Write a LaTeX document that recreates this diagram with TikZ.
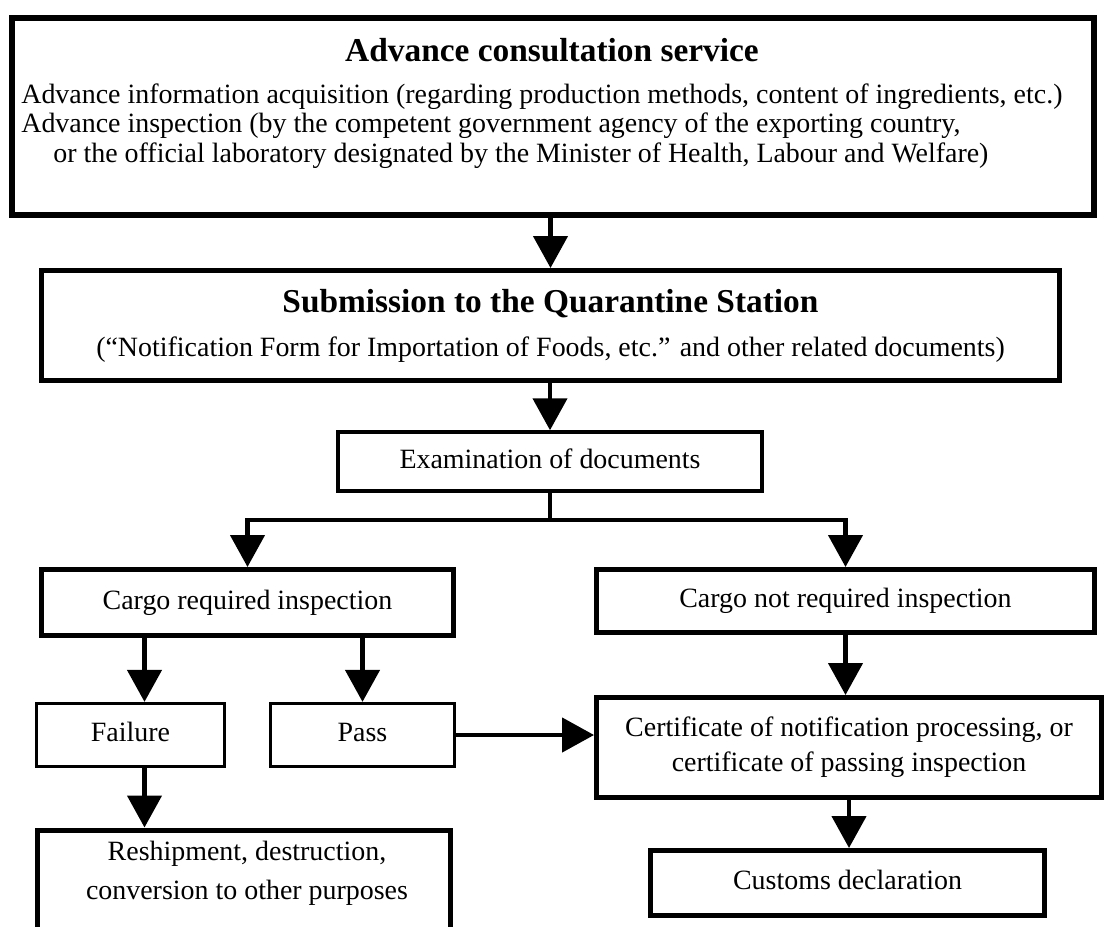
\documentclass[tikz,border=0pt]{standalone}
\usepackage{fontspec}
\setmainfont{Liberation Serif}
\usetikzlibrary{arrows.meta}

\begin{document}
\begin{tikzpicture}[x=0.02cm, y=-0.02cm,
		box/.style={draw, line width=0.1cm, inner sep=0pt, align=center, font=\fontsize{15.9}{20}\selectfont},
		thinbox/.style={box, line width=0.065cm},
		oneline/.style={text height=11pt, text depth=3.5pt},
		flow/.style={line width=0.09cm, -{Triangle[width=0.68cm, length=0.64cm]}},
		link/.style={line width=0.09cm}]
	\clip (0,0) rectangle (1104,926);
	\node[box, line width=0.12cm, minimum width=21.64cm, minimum height=3.94cm] (adv) at (553,116.5) {};
	\node[font=\fontsize{19}{22}\selectfont\bfseries] (advtitle) at (552,50) {Advance consultation service};
	\node[anchor=west, align=left, inner sep=0pt, font=\fontsize{15.9}{16.8}\selectfont] (advtext) at (21,126) {Advance information acquisition (regarding production methods, content of ingredients, etc.)\\
		Advance inspection (by the competent government agency of the exporting country,\\
		\hspace*{0.64cm}or the official laboratory designated by the Minister of Health, Labour and Welfare)};
	\node[box, minimum width=20.36cm, minimum height=2.2cm, font=\fontsize{15.9}{25}\selectfont] (sub) at (550.5,325.5) {{\fontsize{19}{25}\selectfont\bfseries Submission to the Quarantine Station}\\
		(``Notification Form for Importation of Foods, etc.'' and other related documents)};
	\node[thinbox, oneline, line width=0.07cm, minimum width=8.48cm, minimum height=1.18cm] (exam) at (550,461.5) {Examination of documents};
	\node[box, oneline, minimum width=8.24cm, minimum height=1.32cm] (cargoreq) at (247.5,602.5) {Cargo required inspection};
	\node[box, oneline, minimum width=9.96cm, minimum height=1.26cm] (cargonot) at (845.5,601) {Cargo not required inspection};
	\node[thinbox, oneline, minimum width=3.76cm, minimum height=1.26cm] (fail) at (130.5,735) {Failure};
	\node[thinbox, oneline, minimum width=3.68cm, minimum height=1.26cm] (pass) at (362.5,735) {Pass};
	\node[box, minimum width=10.1cm, minimum height=2cm] (cert) at (849,747.5) {Certificate of notification processing, or\\
		certificate of passing inspection};
	\node[box, oneline, minimum width=7.88cm, minimum height=1.3cm] (customs) at (847.5,883) {Customs declaration};
	\node[box, anchor=north, minimum width=8.26cm, minimum height=2.4cm] (reship) at (244,827.5) {};
	\node[align=center, inner sep=0pt, font=\fontsize{15.9}{22}\selectfont] (reshiptext) at (247,873) {Reshipment, destruction,\\
		conversion to other purposes};
	\coordinate (split) at (550,520);
	\draw[flow] (adv.south -| sub.north) -- (sub.north);
	\draw[flow] (sub.south -| exam.north) -- (exam.north);
	\draw[link] (exam.south) -- (split);
	\draw[flow] (split) -| (cargoreq);
	\draw[flow] (split) -| (cargonot);
	\draw[flow] ([xshift=0.28cm]fail.north |- cargoreq.south) -- ([xshift=0.28cm]fail.north);
	\draw[flow] (pass.north |- cargoreq.south) -- (pass.north);
	\draw[flow] (cargonot.south) -- (cargonot.south |- cert.north);
	\draw[flow] (pass.east) -- (pass.east -| cert.west);
	\draw[flow] (cert.south) -- (cert.south |- customs.north);
	\draw[flow] ([xshift=0.28cm]fail.south) -- ([xshift=0.28cm]fail.south |- reship.north);
\end{tikzpicture}
\end{document}
